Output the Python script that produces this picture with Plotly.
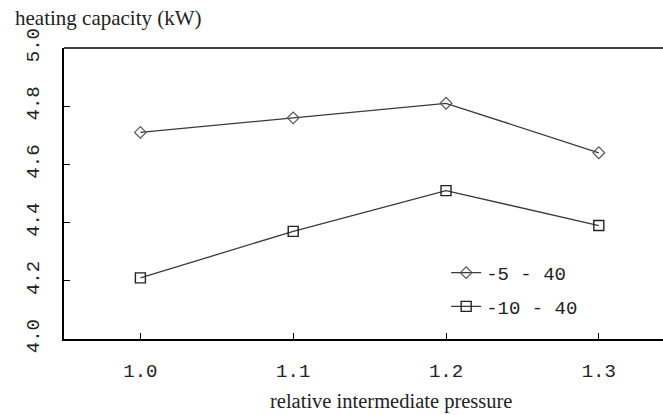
import plotly.graph_objects as go

x_vals = [1.0, 1.1, 1.2, 1.3]
s1_name = "-5 - 40"
s1_vals = [4.71, 4.76, 4.81, 4.64]
s2_name = "-10 - 40"
s2_vals = [4.21, 4.37, 4.51, 4.39]
x_ticks = [1.0, 1.1, 1.2, 1.3]
x_ticktext = ["1.0", "1.1", "1.2", "1.3"]
y_ticks = [4.0, 4.2, 4.4, 4.6, 4.8, 5.0]
y_ticktext = ["4.0", "4.2", "4.4", "4.6", "4.8", "5.0"]

line_col = "#3a3a3a"
mono = "Liberation Mono"
serif = "Liberation Serif"

fig = go.Figure()
fig.add_trace(go.Scatter(
    x=x_vals, y=s1_vals, name=s1_name, mode="lines+markers",
    line=dict(color=line_col, width=1.3),
    marker=dict(symbol="diamond-open", size=9, color="#555555", line=dict(width=1.2)),
    legendgroup="a",
))
fig.add_trace(go.Scatter(
    x=x_vals, y=s2_vals, name=s2_name, mode="lines+markers",
    line=dict(color=line_col, width=1.3),
    marker=dict(symbol="square-open", size=10, color="#222222", line=dict(width=1.4)),
    legendgroup="b",
))

fig.update_layout(
    width=663, height=415,
    margin=dict(l=64, r=0, t=48, b=76),
    paper_bgcolor="white", plot_bgcolor="white",
    showlegend=True,
    legend=dict(
        x=0.638, y=0.169, xanchor="left", yanchor="middle",
        font=dict(family=mono, size=19, color="#222222"),
        bgcolor="rgba(0,0,0,0)", tracegroupgap=6, itemwidth=30,
        traceorder="grouped",
    ),
    xaxis=dict(
        range=[0.95, 1.342], tickvals=x_ticks, ticktext=x_ticktext,
        ticks="inside", ticklen=6, tickcolor="#000", showline=True,
        linecolor="#000", linewidth=1.5, showgrid=False, zeroline=False,
        automargin=False, ticklabelstandoff=13,
        tickfont=dict(family=mono, size=19, color="#222"),
    ),
    yaxis=dict(
        range=[4.0, 5.0], tickvals=y_ticks, ticktext=y_ticktext,
        ticks="inside", ticklen=6, tickcolor="#000", showline=True,
        linecolor="#000", linewidth=1.5, showgrid=False, zeroline=False,
        automargin=False, tickangle=-90, ticklabelstandoff=16,
        tickfont=dict(family=mono, size=19, color="#222"),
    ),
    shapes=[dict(type="line", xref="paper", yref="paper", x0=0, x1=1, y0=1, y1=1,
                 line=dict(color="#000", width=1.5))],
    annotations=[
        dict(text="heating capacity (kW)", xref="paper", yref="paper",
             x=-51/599, y=1.0, xanchor="left", yanchor="middle", yshift=30,
             showarrow=False, font=dict(family=serif, size=21, color="#222")),
        dict(text="relative intermediate pressure", xref="paper", yref="paper",
             x=(391 - 64) / 599, y=0, xanchor="center", yanchor="middle", yshift=-62,
             showarrow=False, font=dict(family=serif, size=20.5, color="#222")),
    ],
)

fig.write_html("out.html", config={"displayModeBar": False},
               post_script="document.body.style.margin='0';document.body.style.overflow='hidden';")
